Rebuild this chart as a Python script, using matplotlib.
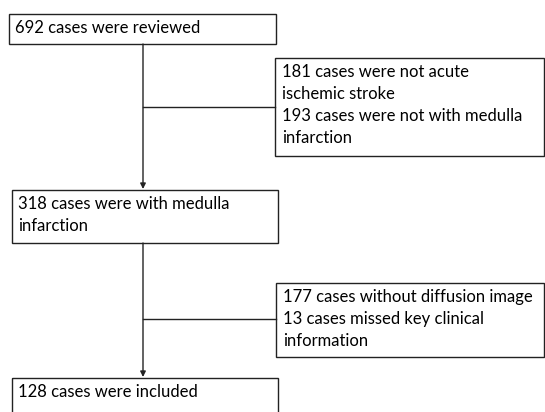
import matplotlib.pyplot as plt
from matplotlib.patches import Rectangle

# Flowchart text
main_steps = [
    "692 cases were reviewed",
    "318 cases were with medulla\ninfarction",
    "128 cases were included",
]
exclusions = [
    "181 cases were not acute\nischemic stroke\n193 cases were not with medulla\ninfarction",
    "177 cases without diffusion image\n13 cases missed key clinical\ninformation",
]

plt.rcParams['font.family'] = ['Lato', 'DejaVu Sans']

fig = plt.figure(figsize=(5.45, 4.12), dpi=100)
ax = fig.add_axes([0, 0, 1, 1])
ax.set_xlim(0, 545)
ax.set_ylim(412, 0)
ax.axis('off')

lc = '#222222'
fs = 12.0

# main boxes: (x0, y0, x1, y1)
main_boxes = [(9, 14, 276, 44), (12, 190, 278, 243), (12, 378, 278, 420)]
side_boxes = [(275, 58, 544, 156), (276, 283, 544, 357)]
spine_x = 143
branch_y = [107, 319]

for (x0, y0, x1, y1), txt in zip(main_boxes, main_steps):
    ax.add_patch(Rectangle((x0, y0), x1 - x0, y1 - y0, fill=False, ec=lc, lw=1.0))
    ax.text(x0 + 6, y0 + 6, txt, fontsize=fs, va='top', ha='left', linespacing=1.45)

for (x0, y0, x1, y1), txt in zip(side_boxes, exclusions):
    ax.add_patch(Rectangle((x0, y0), x1 - x0, y1 - y0, fill=False, ec=lc, lw=1.0))
    ax.text(x0 + 7, y0 + 6, txt, fontsize=fs, va='top', ha='left', linespacing=1.45)

# spine arrows and branches
for i in range(2):
    top = main_boxes[i][3]
    bottom = main_boxes[i + 1][1]
    ax.annotate('', xy=(spine_x, bottom - 1), xytext=(spine_x, top),
                arrowprops=dict(arrowstyle='-|>', color=lc, lw=1.0,
                                mutation_scale=8, shrinkA=0, shrinkB=0))
    ax.plot([spine_x, side_boxes[i][0]], [branch_y[i], branch_y[i]], color=lc, lw=1.0)

fig.savefig('out.png', dpi=100)
